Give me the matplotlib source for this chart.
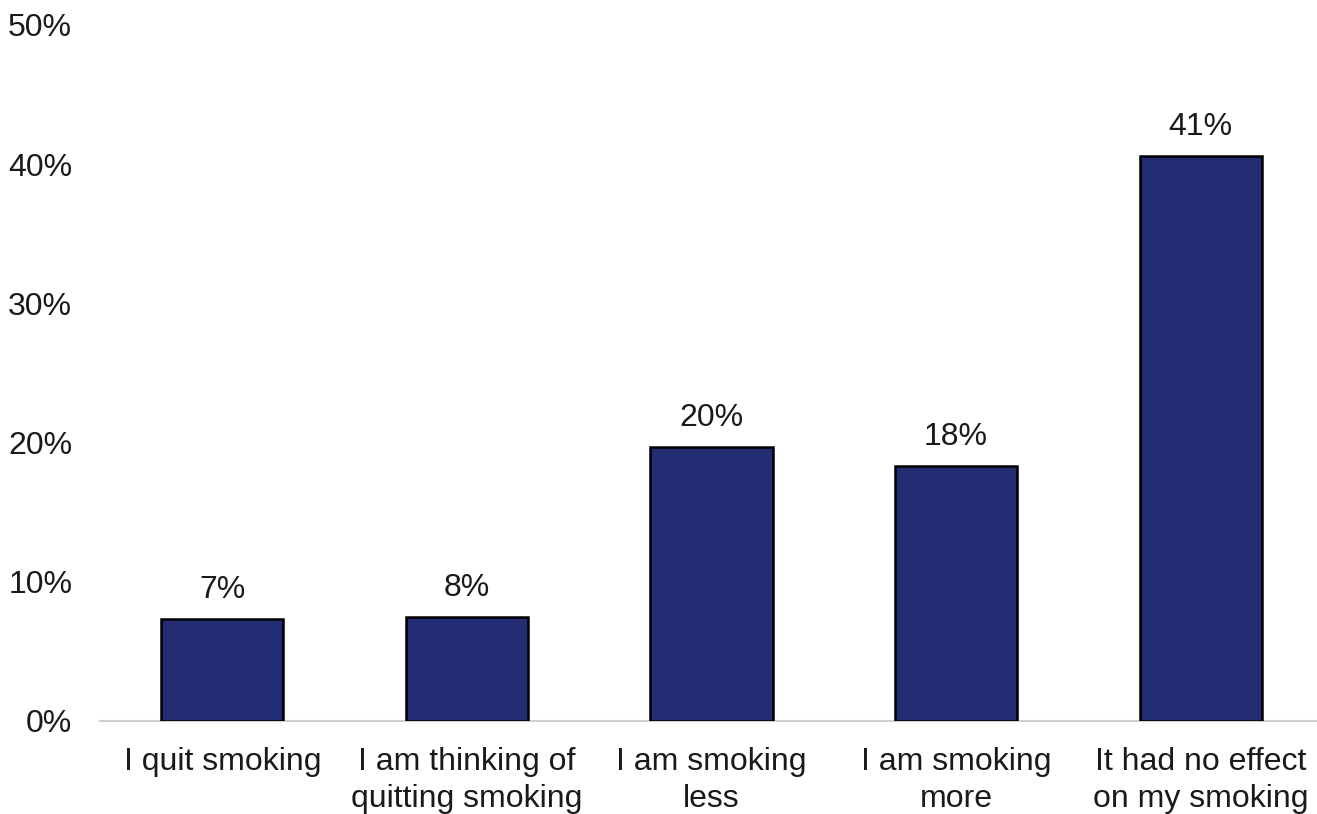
import matplotlib.pyplot as plt

plt.rcParams['font.family'] = ['Liberation Sans', 'DejaVu Sans']

# survey answers and shares (%)
categories = ['I quit smoking', 'I am thinking of\nquitting smoking', 'I am smoking\nless',
              'I am smoking\nmore', 'It had no effect\non my smoking']
values = [7.3, 7.5, 19.7, 18.3, 40.6]
value_labels = ['7%', '8%', '20%', '18%', '41%']
yticks = [0, 10, 20, 30, 40, 50]

fig = plt.figure(figsize=(13.17, 8.14), dpi=100)
ax = fig.add_axes([100 / 1317, 1 - 721 / 814, 1223 / 1317, (721 - 25) / 814])

x = range(len(categories))
bars = ax.bar(x, values, width=0.5, color='#232B73', edgecolor='black', linewidth=1.8, zorder=3)

for b, v, lab in zip(bars, values, value_labels):
    ax.annotate(lab, (b.get_x() + b.get_width() / 2, v), xytext=(0, 10),
                textcoords='offset points', ha='center', va='bottom', fontsize=23, color='#1a1a1a')

ax.set_xlim(-0.5, len(categories) - 0.5)
ax.set_ylim(0, 50)
ax.set_yticks(yticks)
ax.set_yticklabels([f"{t}%" for t in yticks])
ax.set_xticks(list(x))
ax.set_xticklabels(categories, linespacing=1.27)

ax.tick_params(axis='both', length=0, labelsize=23, labelcolor='#1a1a1a')
ax.tick_params(axis='y', pad=20)
ax.tick_params(axis='x', pad=19)

for s in ['top', 'right', 'left']:
    ax.spines[s].set_visible(False)
ax.spines['bottom'].set_color('#d0d0d0')
ax.spines['bottom'].set_linewidth(1.5)

fig.savefig('out.png', dpi=100)
